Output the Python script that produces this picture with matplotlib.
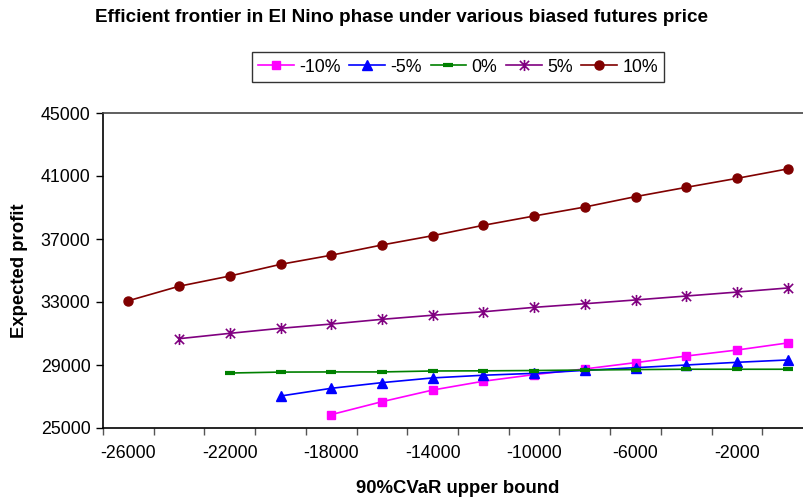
import matplotlib
matplotlib.use("Agg")
import matplotlib.pyplot as plt
from matplotlib.path import Path
import numpy as np

plt.rcParams['font.family'] = ['Liberation Sans', 'DejaVu Sans']

# Data
cvar_bounds = [-26000, -24000, -22000, -20000, -18000, -16000, -14000,
               -12000, -10000, -8000, -6000, -4000, -2000, 0]
tick_labels = ['-26000', '-22000', '-18000', '-14000', '-10000', '-6000', '-2000']
tick_label_pos = [-26000, -22000, -18000, -14000, -10000, -6000, -2000]

profit_m10 = [25850, 26670, 27410, 27970, 28390, 28750, 29150, 29570, 29950, 30400]
profit_m5 = [27030, 27520, 27880, 28180, 28350, 28470, 28660, 28830, 29000, 29170, 29320]
profit_0 = [28490, 28550, 28560, 28560, 28620, 28630, 28650, 28680, 28710, 28730, 28730, 28730]
profit_5 = [30670, 31010, 31330, 31600, 31900, 32160, 32380, 32660, 32890, 33130, 33380, 33630, 33890]
profit_10 = [33080, 34000, 34650, 35390, 35970, 36620, 37210, 37870, 38460, 39030, 39690, 40280, 40850, 41450]

series = [
    ('-10%', profit_m10, '#FF00FF', 's', 5.5),
    ('-5%', profit_m5, '#0000FF', '^', 6.5),
    ('0%', profit_0, '#008000', '_', 6.5),
    ('5%', profit_5, '#800080', 'star', 8),
    ('10%', profit_10, '#800000', 'o', 6.5),
]

# Excel-style star marker: X plus vertical bar
star_verts = [(-1, -1), (1, 1), (-1, 1), (1, -1), (0, -1.2), (0, 1.2)]
star_codes = [Path.MOVETO, Path.LINETO, Path.MOVETO, Path.LINETO, Path.MOVETO, Path.LINETO]
star_marker = Path(star_verts, star_codes)

fig = plt.figure(figsize=(8.04, 5.0), dpi=100)
ax = fig.add_axes([103 / 804, 72 / 500, 710 / 804, 315 / 500])

for name, vals, color, mk, ms in series:
    xs = cvar_bounds[len(cvar_bounds) - len(vals):]
    if mk == 'star':
        ax.plot(xs, vals, color=color, lw=1.2, marker=star_marker, ms=ms,
                mew=1.2, mfc='none', mec=color, label=name)
    elif mk == '_':
        ax.plot(xs, vals, color=color, lw=1.2, marker=mk, ms=ms, mew=3,
                mec=color, label=name)
    else:
        ax.plot(xs, vals, color=color, lw=1.2, marker=mk, ms=ms,
                mfc=color, mec=color, label=name)

ax.set_xlim(-27000, 1000)
ax.set_ylim(25000, 45000)
ax.set_yticks(np.arange(25000, 45001, 4000))
ax.tick_params(axis='y', direction='out', length=5, width=1, labelsize=12.8, pad=4)

ax.set_xticks(np.arange(-27000, 1001, 2000))
ax.set_xticklabels([])
ax.set_xticks(tick_label_pos, minor=True)
ax.set_xticklabels(tick_labels, minor=True)
ax.tick_params(axis='x', which='major', direction='out', length=5, width=1, color='#555555')
ax.tick_params(axis='x', which='minor', length=0, labelsize=12.8, pad=12)

for s in ['left', 'bottom']:
    ax.spines[s].set_color('black')
    ax.spines[s].set_linewidth(1.2)
ax.spines['top'].set_color('#444444')
ax.spines['top'].set_linewidth(1.2)
ax.spines['right'].set_visible(False)

ax.set_xlabel('90%CVaR upper bound', fontsize=13.3, fontweight='bold', labelpad=13)
ax.set_ylabel('Expected profit', fontsize=13.3, fontweight='bold', labelpad=9)

fig.text(402 / 804, 1 - 18 / 500, 'Efficient frontier in El Nino phase under various biased futures price',
         ha='center', va='center', fontsize=13.6, fontweight='bold')

leg = fig.legend(loc='center', bbox_to_anchor=(458 / 804, 1 - 67 / 500), ncol=5,
                 fontsize=12.8, frameon=True, fancybox=False, edgecolor='black',
                 handlelength=2.0, handletextpad=0.3, columnspacing=0.5,
                 borderpad=0.35, borderaxespad=0)
leg.get_frame().set_linewidth(1.0)

fig.savefig('out.png', dpi=100)
